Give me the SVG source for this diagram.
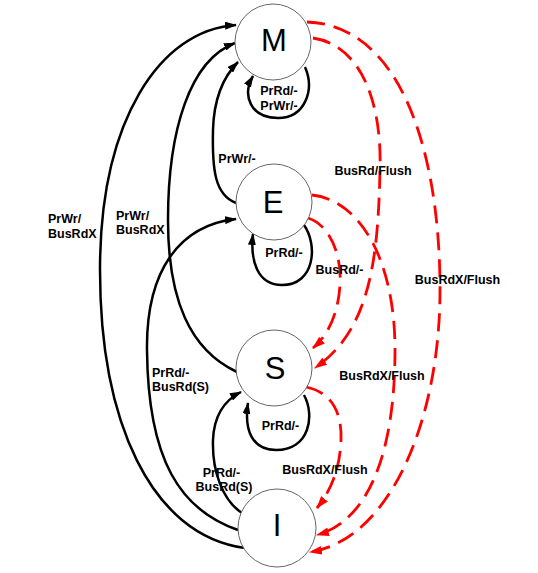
<svg xmlns="http://www.w3.org/2000/svg" width="538" height="573" viewBox="0 0 538 573">
<style>
.st{fill:#fff;stroke:#666;stroke-width:1}
.sl{font-family:"Liberation Sans",Arial,sans-serif;font-size:31px;fill:#000;text-anchor:middle}
.lb{font-family:"Liberation Sans",Arial,sans-serif;font-size:12.5px;font-weight:bold;fill:#000}
.c{text-anchor:middle}
.bk{fill:none;stroke:#000;stroke-width:2.5}
.rd{fill:none;stroke:#f00;stroke-width:2.8;stroke-dasharray:18 9}
</style>
<defs>
<marker id="ab" viewBox="0 0 12 8" refX="11" refY="4" markerWidth="12" markerHeight="8" markerUnits="userSpaceOnUse" orient="auto"><path d="M0,0 L12,4 L0,8 Z" fill="#000"/></marker>
<marker id="ar" viewBox="0 0 12 8" refX="11" refY="4" markerWidth="13" markerHeight="9" markerUnits="userSpaceOnUse" orient="auto"><path d="M0,0 L12,4 L0,8 Z" fill="#f00"/></marker>
</defs>
<g id="connectors">
<path class="bk" marker-end="url(#ab)" d="M245 548 C150 535 100 420 100 270 C100 120 160 30 236 25"/>
<path class="bk" marker-end="url(#ab)" d="M237 372 C190 350 168 300 168 220 C168 130 190 60 235 43"/>
<path class="bk" marker-end="url(#ab)" d="M236 203 C215 195 212 170 213 130 C214 95 225 75 238 62"/>
<path class="bk" marker-end="url(#ab)" d="M238 530 C180 510 148 460 147 350 C146 270 180 225 236 219"/>
<path class="bk" marker-end="url(#ab)" d="M242 513 C222 500 212 470 213 440 C214 415 225 400 241 392"/>
<path class="bk" marker-end="url(#ab)" d="M305 67 C315 90 305 118 278 118 C250 118 242 95 253 76"/>
<path class="bk" marker-end="url(#ab)" d="M304 225 C318 245 315 285 282 285 C258 285 250 262 253 234"/>
<path class="bk" marker-end="url(#ab)" d="M304 395 C315 415 310 450 276 450 C252 450 244 430 248 403"/>
<path class="rd" marker-end="url(#ar)" d="M307 22 C400 25 440 150 440 290 C440 420 390 540 310 552"/>
<path class="rd" marker-end="url(#ar)" d="M313 38 C360 45 382 100 380 170 C378 260 370 330 315 368"/>
<path class="rd" marker-end="url(#ar)" d="M312 195 C360 200 395 260 395 350 C395 450 370 520 317 535"/>
<path class="rd" marker-end="url(#ar)" d="M308 218 C330 225 342 255 340 285 C338 315 328 335 313 348"/>
<path class="rd" marker-end="url(#ar)" d="M306 387 C330 392 342 410 341 440 C340 470 330 492 317 508"/>
</g>
<g id="M"><circle class="st" cx="273" cy="42" r="38"/><text class="sl" x="274" y="51">M</text></g>
<g id="E"><circle class="st" cx="274" cy="202" r="38"/><text class="sl" x="273" y="213">E</text></g>
<g id="S"><circle class="st" cx="274" cy="368" r="38"/><text class="sl" x="275" y="378.5">S</text></g>
<g id="I"><circle class="st" cx="277" cy="528" r="39"/><text class="sl" x="277" y="536">I</text></g>
<g id="labels">
<text class="lb c" x="279" y="94.5">PrRd/-</text>
<text class="lb c" x="279" y="109.5">PrWr/-</text>
<text class="lb c" x="237" y="162.5">PrWr/-</text>
<text class="lb c" x="373" y="174.5">BusRd/Flush</text>
<text class="lb" x="48" y="222.5">PrWr/</text>
<text class="lb" x="48" y="237.5">BusRdX</text>
<text class="lb" x="116" y="219.5">PrWr/</text>
<text class="lb" x="116" y="233.5">BusRdX</text>
<text class="lb c" x="284" y="256.5">PrRd/-</text>
<text class="lb c" x="339.5" y="273.5">BusRd/-</text>
<text class="lb c" x="457.5" y="283.5">BusRdX/Flush</text>
<text class="lb" x="152" y="376.5">PrRd/-</text>
<text class="lb" x="152" y="390.5">BusRd(S)</text>
<text class="lb c" x="382" y="379.5">BusRdX/Flush</text>
<text class="lb c" x="280.5" y="429.5">PrRd/-</text>
<text class="lb c" x="325" y="473.5">BusRdX/Flush</text>
<text class="lb c" x="221.5" y="476.5">PrRd/-</text>
<text class="lb c" x="224" y="490.5">BusRd(S)</text>
</g>
</svg>
